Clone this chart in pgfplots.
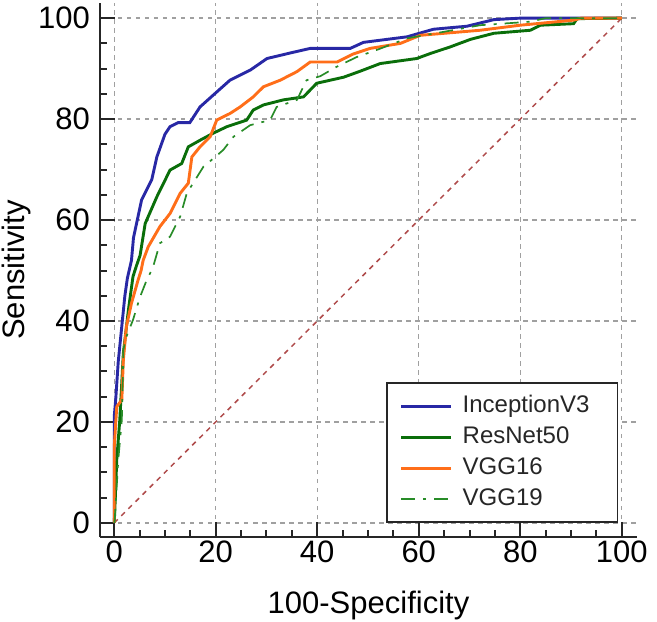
\documentclass[border=0pt]{standalone}
\usepackage{pgfplots}
\pgfplotsset{compat=1.18}
\usepackage{fontspec}
\setmainfont{Liberation Sans}
\definecolor{cinc}{RGB}{40,40,165}
\definecolor{cres}{RGB}{10,110,10}
\definecolor{cv16}{RGB}{255,110,25}
\definecolor{cv19}{RGB}{40,140,40}
\definecolor{cdiag}{RGB}{175,75,75}
\definecolor{cgrid}{RGB}{160,160,160}
\begin{document}
\begin{tikzpicture}
\begin{axis}[
  name=ax, scale only axis, width=537bp, height=534bp,
  xmin=-2.8, xmax=103, ymin=-2.8, ymax=103,
  axis x line=bottom, axis y line=left,
  axis line style={-, line width=2.5bp, black!85},
  xtick={0,20,...,100}, ytick={0,20,...,100}, minor tick num=3,
  tick align=inside, major tick length=15bp, minor tick length=7bp,
  tick style={line width=2bp, black!85},
  grid=major,
  major grid style={color=cgrid, line width=1.4bp, dash pattern=on 4.5bp off 4.5bp},
  /pgf/number format/assume math mode=true,
  tick label style={font=\fontsize{31bp}{31bp}\selectfont, black},
  x tick label style={anchor=north, inner sep=0pt, yshift=-4bp},
  y tick label style={anchor=east, inner sep=0pt, xshift=-10bp},
  xlabel={100-Specificity}, ylabel={Sensitivity},
  label style={font=\fontsize{31bp}{31bp}\selectfont, black},
  xlabel style={at={(axis description cs:0.5,0)}, anchor=base, yshift=-76bp},
  ylabel style={at={(axis description cs:-0.1546,0.5)}, anchor=center},
  legend cell align=left,
  legend image code/.code={\draw[#1] (0bp,0bp) -- (50bp,0bp);},
  legend style={at={(axis cs:99.35,0)}, anchor=south east, draw=black!85, line width=1.5bp, fill=white,
    inner xsep=13bp, inner ysep=7.5bp,
    font=\fontsize{24bp}{24bp}\selectfont,
    nodes={inner xsep=10bp, inner ysep=3.5bp, text height=18bp, text depth=6bp, text width=132bp, align=left, text=black!85}},
]
\addplot[cdiag, line width=1.5bp, dash pattern=on 5bp off 5bp, forget plot] coordinates {(0,0) (100,100)};
\addplot[cinc, line width=2.9bp] coordinates {
(0,0) (0,6) (0,21) (0.3,24.5) (0.8,32) (1.5,39) (2.1,45) (2.6,48.5) (3.4,52) (3.8,56.5) (5.4,64) (7.4,68) (8.4,72.5) (10,77) (11,78.5) (12.6,79.3) (14.9,79.3) (16.9,82.4) (19.9,85.1) (22.8,87.7) (26.8,89.7) (30.1,92) (34.7,93.1) (38.6,94) (46.5,94) (49.1,95.2) (57.7,96.3) (62.9,97.8) (69.5,98.4) (74.8,99.7) (80,100) (100,100)};
\addlegendentry{InceptionV3}
\addplot[cres, line width=2.9bp] coordinates {
(0,0) (0.1,2) (0.5,12.5) (1.1,20.4) (1.8,33.6) (2.8,42.2) (3.7,48.8) (4.4,51) (5.1,53) (6.1,59.3) (8.4,64.6) (11,69.9) (13.3,71.2) (14.6,74.5) (16.9,75.8) (19.5,77.2) (22.2,78.5) (26.1,79.8) (27.4,81.8) (29.4,82.8) (33.3,83.8) (37.3,84.4) (39.9,87.1) (45.2,88.3) (48.5,89.5) (52.4,91) (59.6,92) (62.3,93) (66.2,94.3) (70.2,95.8) (74.8,97) (82,97.6) (84,98.6) (90.5,98.9) (91.2,99.9) (100,100)};
\addlegendentry{ResNet50}
\addplot[cv16, line width=2.9bp] coordinates {
(0,0) (0,15) (0.5,23) (1.5,24.4) (1.8,32.3) (2.4,38.9) (3.4,43.5) (4.7,48.1) (5.3,50) (5.7,52) (6.7,54.7) (9,58.7) (11,61.3) (13,65.3) (14.6,67.3) (15.3,72.5) (16.9,74.5) (18.9,76.5) (20.2,79.8) (22.8,81.1) (24.8,82.4) (27.4,84.4) (29.4,86.4) (32.7,87.7) (36,89.4) (38.6,91.3) (43.9,91.3) (47.1,92.9) (50.4,94) (56.4,95) (60.3,96.6) (72.1,97.6) (80,98.6) (90.5,99.6) (92,100) (100,100)};
\addlegendentry{VGG16}
\addplot[cv19, line width=1.7bp, dash pattern=on 14bp off 8bp on 3bp off 8bp] coordinates {
(0,0) (0.1,0.6) (0.8,12.5) (1.5,20.4) (1.8,34.3) (2.4,36.9) (3.7,40.2) (5.1,44.8) (6.4,48.1) (7.6,50.5) (9,55.4) (11,56.7) (13,60.7) (14.3,65.3) (17.6,70.6) (19.9,72.5) (21.5,73.9) (23.5,76.5) (26.8,78.8) (30.7,79.8) (32,82.4) (36,83.8) (37.9,87.7) (40.6,88.5) (43.9,90.4) (47.8,92.3) (52,93.8) (57.7,96) (65,97.3) (72.1,98.6) (82,99.3) (85,100) (100,100)};
\addlegendentry{VGG19}
\end{axis}
\pgfresetboundingbox
\path[use as bounding box] ([xshift=-100bp,yshift=-85bp]ax.south west) rectangle ([xshift=20bp,yshift=3bp]ax.north east);
\end{tikzpicture}
\end{document}
